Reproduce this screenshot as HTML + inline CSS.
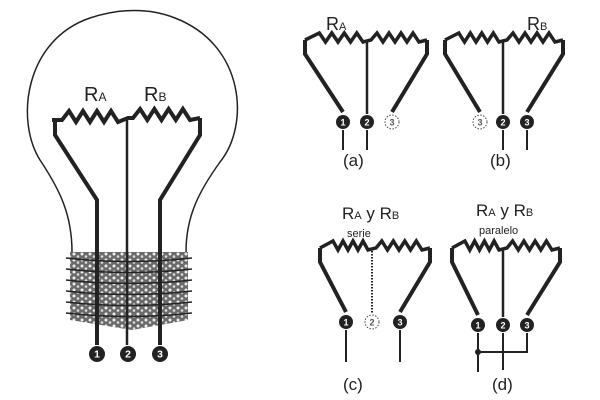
<!DOCTYPE html>
<html><head><meta charset="utf-8"><style>
html,body{margin:0;padding:0;background:#fff;width:600px;height:400px;overflow:hidden}
svg{display:block}
text{font-family:"Liberation Sans",sans-serif;fill:#222}
</style></head><body>
<svg id="s" width="600" height="400" viewBox="0 0 600 400" xmlns="http://www.w3.org/2000/svg">
<defs>
<pattern id="sp" width="8" height="6" patternUnits="userSpaceOnUse">
<rect width="8" height="6" fill="#6a6a6a"/>
<circle cx="2" cy="2" r="1.5" fill="#eee"/><circle cx="6" cy="4.5" r="1.3" fill="#ddd"/>
</pattern>
</defs>
<g id="g" fill="none" stroke="#222" stroke-linejoin="miter"></g>
<text x="84" y="101" font-size="20">R<tspan font-size="12">A</tspan></text>
<text x="144" y="101" font-size="20">R<tspan font-size="12">B</tspan></text>
<text x="326" y="30" font-size="18">R<tspan font-size="11">A</tspan></text>
<text x="527" y="30" font-size="18">R<tspan font-size="11">B</tspan></text>
<text x="343" y="166" font-size="17">(a)</text>
<text x="490" y="166" font-size="17">(b)</text>
<text x="342" y="219" font-size="17">R<tspan font-size="11">A</tspan> y R<tspan font-size="11">B</tspan></text>
<text x="347" y="237" font-size="11">serie</text>
<text x="476" y="216" font-size="17">R<tspan font-size="11">A</tspan> y R<tspan font-size="11">B</tspan></text>
<text x="479" y="234" font-size="11">paralelo</text>
<text x="343" y="390" font-size="17">(c)</text>
<text x="492" y="390" font-size="17">(d)</text>
</svg>
<script>
const NS='http://www.w3.org/2000/svg';
const g=document.getElementById('g');
function P(d,w,extra){const p=document.createElementNS(NS,'path');p.setAttribute('d',d);p.setAttribute('stroke-width',w);if(extra)for(const k in extra)p.setAttribute(k,extra[k]);g.appendChild(p);}
function zig(x1,x2,y,n,a){let d='';const dx=(x2-x1)/n;for(let i=0;i<n;i++){d+=' L'+(x1+dx*(i+0.5)).toFixed(1)+','+(y-a)+' L'+(x1+dx*(i+1)).toFixed(1)+','+(y+2);}return d;}
P('M72,252 C72,215 60,190 40,160 C15,120 25,40 90,18 C120,8 150,8 175,18 C245,45 250,125 220,162 C200,190 186,215 186,252',1.5);
P('M70,252 L188,252 L188,320 L132,330 L70,320 Z',0,{fill:'url(#sp)',stroke:'none'});
for(let y=258;y<322;y+=11){P('M66,'+y+' Q129,'+(y+7)+' 192,'+y,1.5,{stroke:'#222'});}
P('M52,120 L62,120'+zig(62,118,120,4,9)+' L128,118 L133,118'+zig(133,190,118,4,9)+' L200,118',4);
P('M55,120 L55,135 L97,200 L97,345',4);
P('M127,120 L127,345',2.5);
P('M200,118 L200,135 L160,200 L160,345',4);
function panel(L,R,J,y,c1,c2,c3,cy){
 P('M'+L+','+y+zig(L+8,J-4,y,4,7)+' L'+(J+4)+','+y+zig(J+4,R-8,y,4,7)+' L'+R+','+y,3.5);
 P('M'+L+','+y+' L'+L+','+(y+14)+' L'+c1+','+(cy-10),4);
 P('M'+R+','+y+' L'+R+','+(y+14)+' L'+c3+','+(cy-10),4);
}
panel(305,427,367,40,343,367,392,122);
P('M367,40 L367,114',2.5);
panel(445,563,503,40,480,503,527,122);
P('M503,40 L503,114',2.5);
panel(320,430,372,248,346,372,400,322);
P('M372,248 L372,314',2,{'stroke-dasharray':'1.5,1.5'});
panel(452,560,503,248,478,503,527,325);
P('M503,248 L503,317',2.5);
P('M343,130 L343,150 M367,130 L367,150',2);
P('M503,130 L503,150 M527,130 L527,150',2);
P('M346,330 L346,362 M400,330 L400,362',2);
P('M478,333 L478,372 M478,352 L527,352 L527,333 M503,333 L503,370',2);
const s=document.getElementById('s');
function C(x,y,r,t,dash){const c=document.createElementNS(NS,'circle');c.setAttribute('cx',x);c.setAttribute('cy',y);c.setAttribute('r',r);
 if(dash){c.setAttribute('fill','#fff');c.setAttribute('stroke','#444');c.setAttribute('stroke-dasharray','1.5,1.5');}else c.setAttribute('fill','#222');
 s.appendChild(c);if(!t)return;const tx=document.createElementNS(NS,'text');tx.setAttribute('x',x);tx.setAttribute('y',y+3.5);tx.setAttribute('font-size',r*1.3);tx.setAttribute('font-weight','bold');tx.setAttribute('text-anchor','middle');tx.style.fill=dash?'#555':'#fff';tx.textContent=t;s.appendChild(tx);}
C(97,354,8,'1');C(128,354,8,'2');C(160,354,8,'3');
C(343,122,7,'1');C(367,122,7,'2');C(392,122,7,'3',1);
C(480,122,7,'3',1);C(503,122,7,'2');C(527,122,7,'3');
C(346,322,7,'1');C(372,322,7,'2',1);C(400,322,7,'3');
C(478,325,7,'1');C(503,325,7,'2');C(527,325,7,'3');
C(478,352,3,'');
</script>
</body></html>
